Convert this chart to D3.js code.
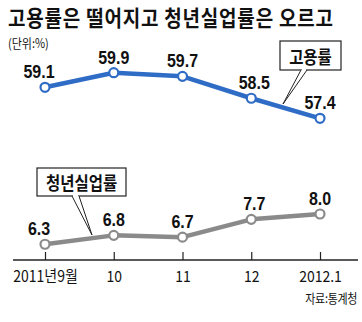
<!DOCTYPE html>
<html><head><meta charset="utf-8">
<script src="https://cdn.jsdelivr.net/npm/d3@7"></script>
<style>
html,body{margin:0;padding:0;background:#fff;}
svg{display:block;}
text{font-family:"Noto Sans CJK KR","Liberation Sans",Arial,sans-serif;fill:#111;}
.num{font-family:"Liberation Sans",Arial,sans-serif;font-weight:bold;}
</style></head>
<body>
<svg id="c" width="362" height="322"></svg>
<script>
const categories = ["2011년9월", "10", "11", "12", "2012.1"];
const employment = [59.1, 59.9, 59.7, 58.5, 57.4];
const youthUnemployment = [6.3, 6.8, 6.7, 7.7, 8.0];
const titleText = "고용률은 떨어지고 청년실업률은 오르고";
const unitText = "(단위:%)";
const sourceText = "자료:통계청";
const seriesNames = ["고용률", "청년실업률"];

const svg = d3.select("#c");
const blue = "#2f6cc6", gray = "#8a8a8a";

const x = d3.scalePoint().domain(categories).range([45, 320]);
const yE = d3.scaleLinear().domain([57, 60]).range([125.6, 70.9]);
const yU = d3.scaleLinear().domain([6, 8.5]).range([249.6, 205.1]);

// text, optionally fitted to a target width via letter-spacing, optionally stretched vertically
function fitText(parent, str, xPos, yPos, size, width, anchor, bold, cls, vs) {
  const g = parent.append("g").attr("transform", `translate(${xPos},${yPos}) scale(1,${vs || 1})`);
  const t = g.append("text").attr("font-size", size).attr("text-anchor", anchor).text(str);
  if (bold) t.attr("font-weight", "bold");
  if (cls) t.attr("class", cls);
  if (width) {
    const w = t.node().getComputedTextLength();
    const n = Math.max(1, str.length - 1);
    const ls = (width - w) / n;
    t.attr("letter-spacing", ls);
    if (anchor === "middle") t.attr("dx", -ls / 2);
  }
  return t;
}

// title & unit
fitText(svg, titleText, 8, 26, 19, 325, "start", true, null, 1.12);
fitText(svg, unitText, 8, 48, 11, null, "start", false, null, 1.15);

// axis
const axisY = 260;
const axis = d3.axisBottom(x).tickSize(0).tickPadding(0).tickFormat("");
const gAx = svg.append("g").attr("transform", `translate(0,${axisY})`).call(axis);
gAx.select(".domain").remove();
gAx.append("line").attr("x1", 13).attr("x2", 358).attr("y1", 0).attr("y2", 0)
  .attr("stroke", "#222").attr("stroke-width", 1.5);
gAx.selectAll(".tick").append("line").attr("y1", 0).attr("y2", -8)
  .attr("stroke", "#222").attr("stroke-width", 1.2);
gAx.selectAll(".tick").each(function(d){
  fitText(d3.select(this), d, 0, 22, 14, null, "middle", false, null, 1.1);
});

fitText(svg, sourceText, 357, 303, 11, 52, "end", false, null, 1.15);

function drawSeries(vals, y, color, labelOff) {
  const line = d3.line().x((d, i) => x(categories[i])).y(d => y(d));
  svg.append("path").datum(vals).attr("d", line).attr("fill", "none")
    .attr("stroke", color).attr("stroke-width", 4.5).attr("stroke-linejoin", "round");
  svg.selectAll(null).data(vals).enter().append("circle")
    .attr("cx", (d, i) => x(categories[i])).attr("cy", d => y(d)).attr("r", 4.5)
    .attr("fill", "#fff").attr("stroke", color).attr("stroke-width", 2.2);
  vals.forEach((d, i) => {
    const lx = x(categories[i]) + (i === 0 ? -6 : (i === 3 ? 3 : 0));
    fitText(svg, d.toFixed(1), lx, y(d) - labelOff, 16, null, "middle", true, "num", 1.15);
  });
}

function callout(bx, by, bw, bh, p1, p2, tip, label) {
  const g = svg.append("g");
  g.append("rect").attr("x", bx).attr("y", by).attr("width", bw).attr("height", bh)
    .attr("fill", "#fff").attr("stroke", "#222").attr("stroke-width", 1.2);
  g.append("path").attr("d", `M${p1[0]},${p1[1]}L${tip[0]},${tip[1]}L${p2[0]},${p2[1]}`)
    .attr("fill", "#fff").attr("stroke", "#222").attr("stroke-width", 1);
  g.append("line").attr("x1", p1[0] + 1).attr("x2", p2[0] - 1).attr("y1", p1[1]).attr("y2", p2[1])
    .attr("stroke", "#fff").attr("stroke-width", 2);
  fitText(g, label, bx + bw / 2, by + bh - 6, 15.5, null, "middle", true, null, 1.15);
}

drawSeries(employment, yE, blue, 9);
drawSeries(youthUnemployment, yU, gray, 9);

callout(280, 41, 61, 29, [301, 70], [307, 70], [283, 104], seriesNames[0]);
callout(37, 168, 89, 28, [72, 196], [79, 196], [92, 235], seriesNames[1]);
</script>
</body></html>
